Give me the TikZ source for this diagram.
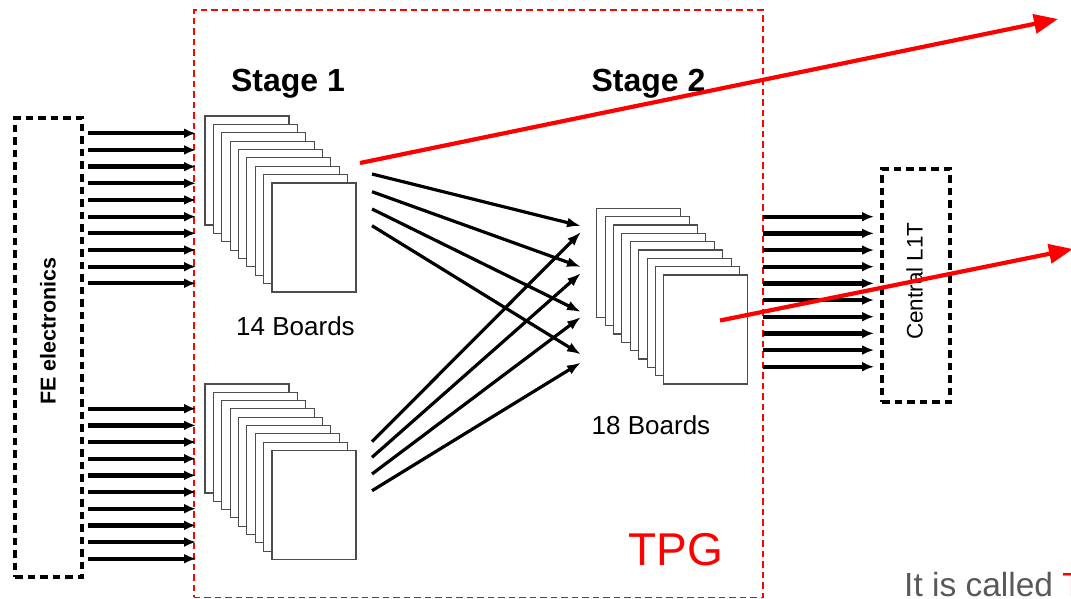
\documentclass[tikz,border=0pt]{standalone}
\usepackage{fontspec}
\setmainfont{Liberation Sans}
\usetikzlibrary{arrows.meta}
\definecolor{tpgred}{RGB}{255,0,0}
\definecolor{note}{RGB}{89,89,89}
\tikzset{
  board/.style={draw=black!70, fill=white, line width=1.1pt, minimum width=84pt, minimum height=109pt, inner sep=0pt, outer sep=0pt, anchor=north west},
  blackdash/.style={draw=black, line width=4pt, dash pattern=on 7.5pt off 5pt},
  reddash/.style={draw=tpgred, line width=1.7pt, dash pattern=on 6.5pt off 4pt},
  link/.style={line width=4.3pt, -{Latex[length=12pt,width=10pt]}},
  cross/.style={line width=3.2pt, -{Latex[length=14pt,width=10pt]}},
  redarrow/.style={draw=tpgred, line width=4.2pt, -{Triangle[length=24pt,width=19pt]}, color=tpgred},
  lbl/.style={inner sep=0pt, anchor=base},
}
\begin{document}
\begin{tikzpicture}[x=1pt,y=-1pt]
\useasboundingbox (0,0) rectangle (1071,599);
% TPG box
\node[reddash, minimum width=569pt, minimum height=587pt, inner sep=0pt, anchor=north west] (tpg) at (193,9.5) {};
\node[lbl, text=tpgred, font=\fontsize{46}{50}\selectfont] (tpgl) at (676,565) {TPG};
% FE electronics box
\node[blackdash, minimum width=67pt, minimum height=459pt, inner sep=0pt, anchor=north west] (fe) at (13,116) {};
\node[rotate=90, font=\fontsize{21.5}{24}\selectfont\bfseries, inner sep=0pt] (fel) at (48,331) {FE electronics};
% Central L1T box
\node[blackdash, minimum width=68pt, minimum height=233pt, inner sep=0pt, anchor=north west] (cl) at (880,167) {};
\node[rotate=90, font=\fontsize{22.5}{25}\selectfont, inner sep=0pt] (cll) at (914.5,281) {Central L1T};
% Stage labels
\node[lbl, font=\fontsize{32}{36}\selectfont\bfseries] (s1) at (288,91.5) {Stage 1};
\node[lbl, font=\fontsize{32}{36}\selectfont\bfseries] (s2) at (648.5,91.5) {Stage 2};
% board stacks
\foreach \i in {0,...,8} {
  \node[board] (a\i) at (205+8.375*\i,116+8.375*\i) {};
}
\foreach \i in {0,...,8} {
  \node[board] (b\i) at (205+8.375*\i,384+8.3*\i) {};
}
\foreach \i in {0,...,8} {
  \node[board] (c\i) at (596.7+8.4*\i,208.3+8.34*\i) {};
}
\node[lbl, font=\fontsize{26}{30}\selectfont] (n14) at (295.5,335) {14 Boards};
\node[lbl, font=\fontsize{26}{30}\selectfont] (n18) at (651,434) {18 Boards};
% input and output arrows
\foreach \j in {0,...,9} {
  \coordinate (ia\j) at (88,133.3+16.67*\j);
  \coordinate (ta\j) at (196,133.3+16.67*\j);
  \draw[link] (ia\j) -- (ta\j);
  \coordinate (ib\j) at (88,408.7+16.67*\j);
  \coordinate (tb\j) at (196,408.7+16.67*\j);
  \draw[link] (ib\j) -- (tb\j);
  \coordinate (oc\j) at (763,216.7+16.67*\j);
  \coordinate (tc\j) at (874,216.7+16.67*\j);
  \draw[link] (oc\j) -- (tc\j);
}
% crossing arrows
\coordinate (u1) at (372,174);   \coordinate (e1) at (581,226);
\coordinate (u2) at (372,191.7); \coordinate (e2) at (581,267);
\coordinate (u3) at (372,209);   \coordinate (e3) at (581,312);
\coordinate (u4) at (372,225.7); \coordinate (e4) at (581,354.5);
\coordinate (l1) at (372,441.7); \coordinate (f1) at (581,232);
\coordinate (l2) at (372,457.3); \coordinate (f2) at (581,273);
\coordinate (l3) at (372,474);   \coordinate (f3) at (581,317);
\coordinate (l4) at (372,490.7); \coordinate (f4) at (581,362.5);
\foreach \k in {1,...,4} {
  \draw[cross] (u\k) -- (e\k);
  \draw[cross] (l\k) -- (f\k);
}
% red arrows
\coordinate (r1s) at (360,163);
\coordinate (r1e) at (1058,19);
\draw[redarrow] (r1s) -- (r1e);
\coordinate (r2s) at (720,320.5);
\coordinate (r2e) at (1073,249);
\draw[redarrow] (r2s) -- (r2e);
% note
\node[inner sep=0pt, anchor=base west, font=\fontsize{33.5}{36}\selectfont, text=note] (note) at (904,596) {It is called \textcolor{tpgred}{T}};
\end{tikzpicture}
\end{document}
